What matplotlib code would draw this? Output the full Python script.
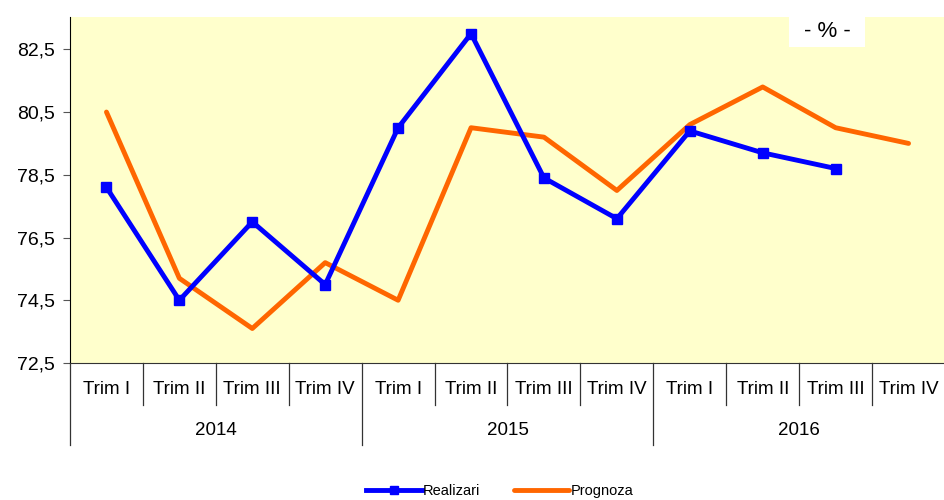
import numpy as np
import matplotlib.pyplot as plt
from matplotlib.patches import Rectangle

plt.rcParams["font.family"] = ["Liberation Sans", "DejaVu Sans"]

years = ["2014", "2015", "2016"]
quarters = ["Trim I", "Trim II", "Trim III", "Trim IV"]
realizari = [78.1, 74.5, 77.0, 75.0, 80.0, 83.0, 78.4, 77.1, 79.9, 79.2, 78.7]
prognoza = [80.5, 75.2, 73.6, 75.7, 74.5, 80.0, 79.7, 78.0, 80.1, 81.3, 80.0, 79.5]
y_ticks = [72.5, 74.5, 76.5, 78.5, 80.5, 82.5]

n = len(years) * len(quarters)
x = np.arange(n)

fig = plt.figure(figsize=(9.45, 5), dpi=100)
ax = fig.add_axes([70 / 945, 1 - 363 / 500, 875 / 945, 346 / 500])
ax.set_facecolor("#FFFFCC")

ax.plot(x[:len(realizari)], realizari, color="#0000FF", lw=3.5, marker="s",
        ms=7, solid_joinstyle="miter", label="Realizari", zorder=4)
ax.plot(x[:len(prognoza)], prognoza, color="#FF6600", lw=3.5,
        solid_capstyle="round", label="Prognoza", zorder=3)

ax.set_xlim(-0.5, n - 0.5)
ax.set_ylim(72.5, 83.53)
ax.set_yticks(y_ticks)
ax.set_yticklabels([f"{v:.1f}".replace(".", ",") for v in y_ticks], fontsize=14)
ax.tick_params(axis="y", direction="out", length=5, color="#555555", pad=6)
ax.set_xticks([])

for s in ["top", "right"]:
    ax.spines[s].set_visible(False)
ax.spines["left"].set_color("black")
ax.spines["bottom"].set_color("#333333")

# category axis below the plot
tr = ax.get_xaxis_transform()
for i in range(n):
    ax.text(x[i], -0.076, quarters[i % 4], transform=tr, ha="center",
            va="center", fontsize=13.5)
for i in range(n + 1):
    pos = i - 0.5
    bottom = -0.237 if i % 4 == 0 else -0.121
    ax.plot([pos, pos], [0, bottom], transform=tr, color="#333333", lw=0.9,
            clip_on=False)
for j, yr in enumerate(years):
    ax.text(j * 4 + 1.5, -0.196, yr, transform=tr, ha="center", va="center",
            fontsize=13.5)

# unit box
ax.add_patch(Rectangle((0.822, 0.913), 0.087, 0.087, transform=ax.transAxes,
                       facecolor="white", edgecolor="none", zorder=5))
ax.text(0.8655, 0.958, "- % -", transform=ax.transAxes, ha="center",
        va="center", fontsize=16, zorder=6)

fig.legend(loc="lower center", bbox_to_anchor=(500 / 945, -0.022), ncol=2,
           frameon=False, fontsize=10.5, handlelength=3.8, handletextpad=0.1,
           columnspacing=2.3, markerscale=0.8)

fig.savefig("out.png", dpi=100, facecolor="white")
